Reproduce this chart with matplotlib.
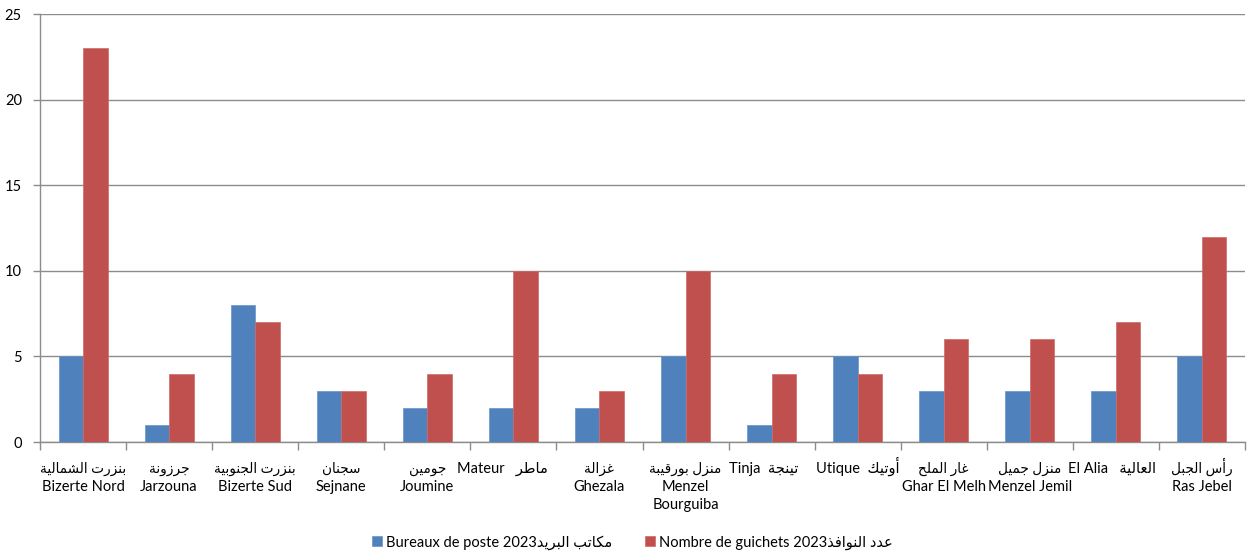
import matplotlib
matplotlib.use("Agg")
import matplotlib.pyplot as plt
import numpy as np
from matplotlib.ticker import FixedLocator, MultipleLocator

# ---- Arabic shaping helpers (contextual forms + visual order) ----
# code points of the presentation forms: isolated, final, initial, medial
_DUAL = {
    '\u0628': 0xFE8F, '\u062A': 0xFE95, '\u062B': 0xFE99, '\u062C': 0xFE9D,
    '\u062D': 0xFEA1, '\u062E': 0xFEA5, '\u0633': 0xFEB1, '\u0634': 0xFEB5,
    '\u0635': 0xFEB9, '\u0636': 0xFEBD, '\u0637': 0xFEC1, '\u0638': 0xFEC5,
    '\u0639': 0xFEC9, '\u063A': 0xFECD, '\u0641': 0xFED1, '\u0642': 0xFED5,
    '\u0643': 0xFED9, '\u0644': 0xFEDD, '\u0645': 0xFEE1, '\u0646': 0xFEE5,
    '\u0647': 0xFEE9, '\u064A': 0xFEF1,
}
_RIGHT = {
    '\u0622': 0xFE81, '\u0623': 0xFE83, '\u0625': 0xFE87, '\u0627': 0xFE8D,
    '\u0629': 0xFE93, '\u062F': 0xFEA9, '\u0630': 0xFEAB, '\u0631': 0xFEAD,
    '\u0632': 0xFEAF, '\u0648': 0xFEED, '\u0649': 0xFEEF,
}
_LAM_ALEF = {'\u0622': 0xFEF5, '\u0623': 0xFEF7, '\u0625': 0xFEF9, '\u0627': 0xFEFB}


def _is_ar(c):
    return c in _DUAL or c in _RIGHT


def ar(text):
    """Return Arabic text in joined glyph forms, laid out left-to-right."""
    out = []
    i = 0
    n = len(text)
    while i < n:
        c = text[i]
        prev = text[i - 1] if i > 0 else ''
        joins_prev = prev in _DUAL
        if c == '\u0644' and i + 1 < n and text[i + 1] in _LAM_ALEF:
            base = _LAM_ALEF[text[i + 1]]
            out.append(chr(base + (1 if joins_prev else 0)))
            i += 2
            continue
        if c in _DUAL:
            nxt = text[i + 1] if i + 1 < n else ''
            joins_next = _is_ar(nxt)
            base = _DUAL[c]
            if joins_prev and joins_next:
                out.append(chr(base + 3))
            elif joins_prev:
                out.append(chr(base + 1))
            elif joins_next:
                out.append(chr(base + 2))
            else:
                out.append(chr(base))
        elif c in _RIGHT:
            out.append(chr(_RIGHT[c] + (1 if joins_prev else 0)))
        else:
            out.append(c)
        i += 1
    return ''.join(out[::-1])


# ---- data ----
labels = [
    ar("بنزرت الشمالية") + "\nBizerte Nord",
    ar("جرزونة") + "\nJarzouna",
    ar("بنزرت الجنوبية") + "\nBizerte Sud",
    ar("سجنان") + "\nSejnane",
    ar("جومين") + "\nJoumine",
    "Mateur   " + ar("ماطر") + "      ",
    ar("غزالة") + "\nGhezala",
    ar("منزل بورقيبة") + "\nMenzel\nBourguiba",
    "Tinja  " + ar("تينجة") + "    ",
    "Utique  " + ar("أوتيك"),
    ar("غار الملح") + "\nGhar El Melh",
    ar("منزل جميل") + "\nMenzel Jemil",
    "El Alia   " + ar("العالية") + "  ",
    ar("رأس الجبل") + "\nRas Jebel",
]
bureaux = [5, 1, 8, 3, 2, 2, 2, 5, 1, 5, 3, 3, 3, 5]
guichets = [23, 4, 7, 3, 4, 10, 3, 10, 4, 4, 6, 6, 7, 12]
series_names = [
    "Bureaux de poste 2023" + ar("مكاتب البريد"),
    "Nombre de guichets 2023" + ar("عدد النوافذ"),
]

# ---- style ----
FONT = ['Lato', 'DejaVu Sans']
plt.rcParams['font.family'] = FONT
plt.rcParams['font.size'] = 10.5
BLUE = '#4F81BD'
RED = '#C0504D'
GRID = '#8C8C8C'

fig = plt.figure(figsize=(12.5, 5.6), dpi=100)
ax = fig.add_axes([0.032, 0.2107, 0.964, 0.7643])

x = np.arange(len(labels))
w = 0.285
ax.bar(x - w / 2, bureaux, width=w, color=BLUE, edgecolor='#6A93C8',
       linewidth=0.5, label=series_names[0], zorder=3)
ax.bar(x + w / 2, guichets, width=w, color=RED, edgecolor='#CC6A67',
       linewidth=0.5, label=series_names[1], zorder=3)

ax.set_xlim(-0.5, len(labels) - 0.5)
ax.set_ylim(0, 25)
ax.yaxis.set_major_locator(MultipleLocator(5))
ax.grid(axis='y', color=GRID, linewidth=1.0, zorder=0)

for side in ('top', 'right'):
    ax.spines[side].set_visible(False)
for side in ('left', 'bottom'):
    ax.spines[side].set_color(GRID)
    ax.spines[side].set_linewidth(1.0)

# tick marks on group boundaries; category names drawn line by line below
ax.set_xticks(x, [''] * len(x))
ax.tick_params(axis='x', which='major', length=0)
ax.xaxis.set_minor_locator(FixedLocator(np.arange(-0.5, len(labels), 1.0)))
ax.tick_params(axis='x', which='minor', length=6, color=GRID, width=1.0)
ax.tick_params(axis='y', length=5, color=GRID, width=1.0, pad=8)

FIRST_BASELINE = 22.3   # points below the x axis
LINE_STEP = 12.96       # points between baselines


def arabic_only(s):
    return all(c == ' ' or '\uFE70' <= c <= '\uFEFF' for c in s)


for xi, lab in zip(x, labels):
    for j, line in enumerate(lab.split('\n')):
        ax.annotate(line, xy=(xi, 0), xycoords=('data', 'axes fraction'),
                    xytext=(0, -FIRST_BASELINE - LINE_STEP * j),
                    textcoords='offset points', ha='center', va='baseline',
                    fontsize=9.8 if arabic_only(line) else 10.5,
                    annotation_clip=False)

leg = fig.legend(loc='lower center', bbox_to_anchor=(0.506, -0.005), ncol=2,
                 frameon=False, handlelength=0.7, handleheight=0.7,
                 handletextpad=0.3, columnspacing=2.2, fontsize=10.5)

fig.savefig('out.png', dpi=100)
